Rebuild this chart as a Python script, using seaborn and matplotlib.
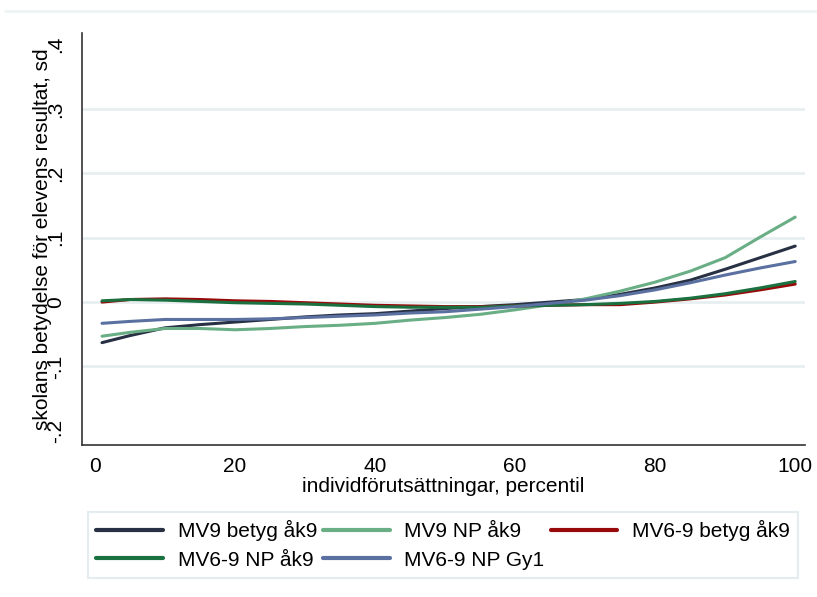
import matplotlib
matplotlib.use("Agg")
import matplotlib.pyplot as plt
from matplotlib.lines import Line2D
import pandas as pd
import seaborn as sns

# percentile grid and the five smoothed series
percentile = [1, 5, 10, 15, 20, 25, 30, 35, 40, 45, 50, 55, 60, 65, 70, 75, 80, 85, 90, 95, 100]

mv9_betyg = [-0.063, -0.052, -0.040, -0.035, -0.031, -0.027, -0.023, -0.020, -0.018, -0.014, -0.010,
             -0.007, -0.004, 0.000, 0.004, 0.012, 0.022, 0.034, 0.051, 0.069, 0.087]
mv9_np = [-0.053, -0.047, -0.041, -0.041, -0.043, -0.041, -0.038, -0.036, -0.033, -0.028, -0.024,
          -0.019, -0.012, -0.004, 0.005, 0.017, 0.031, 0.048, 0.069, 0.101, 0.132]
mv69_betyg = [0.000, 0.004, 0.005, 0.004, 0.002, 0.001, -0.001, -0.003, -0.005, -0.006, -0.007,
              -0.007, -0.006, -0.005, -0.004, -0.004, 0.000, 0.005, 0.011, 0.019, 0.028]
mv69_np = [0.002, 0.004, 0.003, 0.001, -0.001, -0.002, -0.003, -0.005, -0.007, -0.008, -0.008,
           -0.008, -0.006, -0.005, -0.004, -0.002, 0.001, 0.006, 0.013, 0.022, 0.032]
mv69_gy1 = [-0.033, -0.030, -0.027, -0.027, -0.027, -0.026, -0.024, -0.022, -0.020, -0.017, -0.015,
            -0.011, -0.007, -0.002, 0.003, 0.010, 0.019, 0.030, 0.042, 0.053, 0.063]

series_names = ["MV9 betyg åk9", "MV9 NP åk9", "MV6-9 betyg åk9", "MV6-9 NP åk9", "MV6-9 NP Gy1"]
series_colors = ["#283044", "#6aae86", "#980a0a", "#1b7040", "#5a70a0"]

y_ticks = [-0.2, -0.1, 0.0, 0.1, 0.2, 0.3, 0.4]
y_tick_labels = ["-.2", "-.1", "0", ".1", ".2", ".3", ".4"]
x_ticks = [0, 20, 40, 60, 80, 100]

frames = []
for name, vals in zip(series_names, [mv9_betyg, mv9_np, mv69_betyg, mv69_np, mv69_gy1]):
    frames.append(pd.DataFrame({"percentil": percentile, "value": vals, "serie": name}))
df = pd.concat(frames, ignore_index=True)

sns.set_style("white")
plt.rcParams["font.family"] = ["Liberation Sans", "DejaVu Sans"]
plt.rcParams["text.color"] = "black"
plt.rcParams["axes.labelcolor"] = "black"

fig = plt.figure(figsize=(8.17, 5.97), dpi=100)
ax = fig.add_axes([82 / 817, 1 - 445 / 597, 723 / 817, 412 / 597])

sns.lineplot(data=df, x="percentil", y="value", hue="serie", hue_order=series_names,
             palette=dict(zip(series_names, series_colors)), linewidth=2.2, ax=ax, legend=False)

ax.set_xlim(-1.86, 101.4)
ax.set_ylim(-0.222, 0.418)
ax.set_xticks(x_ticks)
ax.set_yticks(y_ticks, labels=y_tick_labels)

ax.grid(axis="y", color="#e8eff1", linewidth=2)
ax.grid(axis="x", visible=False)
gl = ax.yaxis.get_gridlines()
gl[0].set_visible(False)
gl[-1].set_visible(False)

for side in ["top", "right"]:
    ax.spines[side].set_visible(False)
for side in ["left", "bottom"]:
    ax.spines[side].set_color("#333333")
    ax.spines[side].set_linewidth(1.2)

ax.tick_params(axis="both", direction="out", length=5, width=1.1, color="#333333",
               labelsize=15, labelcolor="black")
ax.tick_params(axis="x", pad=4)
ax.tick_params(axis="y", pad=7, labelrotation=90)
for lab in ax.get_yticklabels():
    lab.set_va("center")

ax.set_xlabel("individförutsättningar, percentil", fontsize=15)
ax.set_ylabel("skolans betydelse för elevens resultat, sd", fontsize=15)
ax.xaxis.set_label_coords(0.5, -0.078)
ax.yaxis.set_label_coords(-0.042, 0.5)

# legend, row-major like the original
handles = [Line2D([], [], color=c, linewidth=3) for c in series_colors]
order = [0, 3, 1, 4, 2]
leg = ax.legend([handles[i] for i in order], [series_names[i] for i in order], ncol=3,
                loc="lower left", bbox_to_anchor=(88 / 817, 19 / 597, 710 / 817, 68 / 597),
                bbox_transform=fig.transFigure, mode="expand", fontsize=15, frameon=True,
                fancybox=False, handlelength=3.2, handletextpad=0.7, labelspacing=0.45,
                borderpad=0.4, borderaxespad=0)
leg.get_frame().set_edgecolor("#dfe8ec")
leg.get_frame().set_linewidth(1.5)

fig.add_artist(Line2D([5 / 817, 1], [1 - 11 / 597, 1 - 11 / 597], transform=fig.transFigure,
                      color="#eef4f4", linewidth=2))

fig.savefig("out.png", dpi=100, facecolor="white")
